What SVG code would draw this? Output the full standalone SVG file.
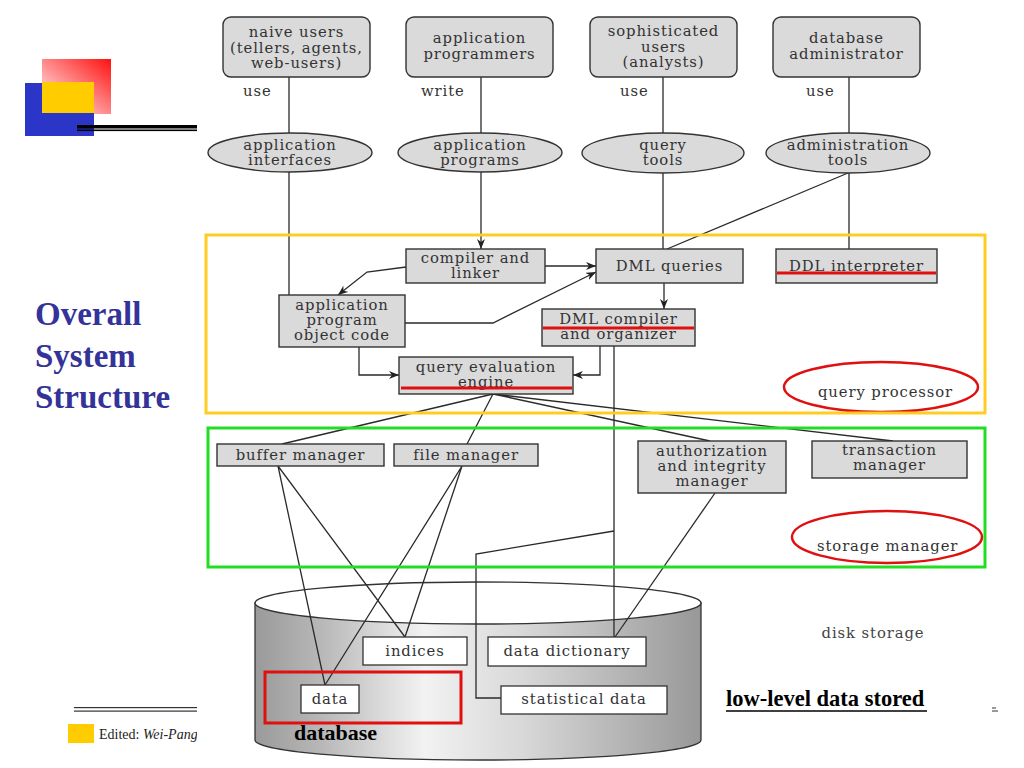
<svg xmlns="http://www.w3.org/2000/svg" width="1024" height="768" viewBox="0 0 1024 768">
<defs>
<linearGradient id="redg" x1="1" y1="0" x2="0" y2="1">
<stop offset="0" stop-color="#ff1010"/>
<stop offset="1" stop-color="#ffffff"/>
</linearGradient>
<linearGradient id="cyl" x1="0" y1="0" x2="1" y2="0">
<stop offset="0" stop-color="#9a9a9a"/>
<stop offset="0.15" stop-color="#b8b8b8"/>
<stop offset="0.38" stop-color="#f2f2f2"/>
<stop offset="0.6" stop-color="#d8d8d8"/>
<stop offset="0.85" stop-color="#b0b0b0"/>
<stop offset="1" stop-color="#989898"/>
</linearGradient>
<clipPath id="leftclip"><rect x="0" y="0" width="197" height="768"/></clipPath>
<marker id="ah" viewBox="0 0 10 8" refX="10" refY="4" markerWidth="10" markerHeight="8" markerUnits="userSpaceOnUse" orient="auto">
<path d="M0,0 L10,4 L0,8 L3,4 Z" fill="#222"/>
</marker>
<style>
.t{font-family:"DejaVu Serif","Liberation Serif",serif;font-size:14.8px;fill:#333;letter-spacing:0.9px;text-anchor:middle}
.l{font-family:"DejaVu Serif","Liberation Serif",serif;font-size:14.8px;fill:#333;letter-spacing:0.9px}
.rb{fill:#dadada;stroke:#333;stroke-width:1.4}
.wb{fill:#fff;stroke:#333;stroke-width:1.3}
.c{fill:none;stroke:#2a2a2a;stroke-width:1.3}
.a{fill:none;stroke:#2a2a2a;stroke-width:1.3;marker-end:url(#ah)}
.ul{stroke:#e01010;stroke-width:3}
.title{font-family:"Liberation Serif","Times New Roman",serif;font-weight:bold;font-size:33px;fill:#333399}
</style>
</defs>
<rect width="1024" height="768" fill="#fff"/>

<!-- slide decoration -->
<g id="decoration">
<rect x="42" y="59" width="69" height="55" fill="url(#redg)"/>
<rect x="25" y="83" width="69" height="53" fill="#2b35c8"/>
<rect x="42" y="82" width="52" height="31" fill="#ffcc00"/>
<g clip-path="url(#leftclip)">
<rect x="77" y="125" width="130" height="3.5" fill="#000"/>
<rect x="77" y="129.5" width="130" height="1.6" fill="#000"/>
<rect x="74" y="707" width="130" height="1.2" fill="#333"/>
<rect x="74" y="710.5" width="130" height="1.2" fill="#333"/>
<rect x="68" y="724" width="26" height="19" fill="#ffcc00"/>
<text x="99" y="739" font-family="Liberation Serif,serif" font-size="14" fill="#222">Edited: <tspan font-style="italic">Wei-Pang</tspan></text>
</g>
<text class="title" x="35" y="325">Overall</text>
<text class="title" x="35" y="367">System</text>
<text class="title" x="35" y="408">Structure</text>
</g>

<!-- database cylinder -->
<g id="database">
<path d="M255,603 L255,740 A223,20 0 0 0 701,740 L701,603 Z" fill="url(#cyl)" stroke="#333" stroke-width="1.3"/>
<ellipse cx="478" cy="603" rx="223" ry="21" fill="#fff" stroke="#333" stroke-width="1.3"/>
</g>

<!-- connectors -->
<g id="connectors">
<path class="c" d="M289,77 V133 M289,172 V295"/>
<path class="c" d="M481,77 V133"/>
<path class="c" d="M663,77 V133 M663,173 V249"/>
<path class="c" d="M849,77 V133 M849,173 V249"/>
<path class="c" d="M848,173 L667,249"/>
<path class="a" d="M481,172 V249"/>
<path class="a" d="M545,266 H596"/>
<path class="a" d="M406,267 L367,272 L338,295"/>
<path class="a" d="M405,323 H493 L596,272"/>
<path class="a" d="M664,283 V309"/>
<path class="a" d="M359,347 V375 H399"/>
<path class="a" d="M600,346 V375 H573"/>
<path class="c" d="M614,346 V637"/>
<path class="c" d="M614,531 L476,554 V698 H501"/>
<path class="c" d="M493,394 L282,444 M493,394 L467,444 M493,394 L710,441 M493,394 L893,441"/>
<path class="c" d="M278,466 L325,685 M278,466 L405,637"/>
<path class="c" d="M462,466 L325,685 M462,466 L405,637"/>
<path class="c" d="M715,493 L615,637"/>
</g>

<!-- users -->
<g id="naive-users">
<rect class="rb" x="223" y="17" width="147" height="60" rx="8"/>
<text class="t" x="296.5" y="37">naive users</text>
<text class="t" x="296.5" y="53">(tellers, agents,</text>
<text class="t" x="296.5" y="68">web-users)</text>
<text class="l" x="243" y="96">use</text>
</g>
<g id="application-programmers">
<rect class="rb" x="406" y="17" width="147" height="60" rx="8"/>
<text class="t" x="479.5" y="43">application</text>
<text class="t" x="479.5" y="59">programmers</text>
<text class="l" x="421" y="96">write</text>
</g>
<g id="sophisticated-users">
<rect class="rb" x="590" y="17" width="147" height="60" rx="8"/>
<text class="t" x="663.5" y="36">sophisticated</text>
<text class="t" x="663.5" y="52">users</text>
<text class="t" x="663.5" y="67">(analysts)</text>
<text class="l" x="620" y="96">use</text>
</g>
<g id="database-administrator">
<rect class="rb" x="773" y="17" width="147" height="60" rx="8"/>
<text class="t" x="846.5" y="43">database</text>
<text class="t" x="846.5" y="59">administrator</text>
<text class="l" x="806" y="96">use</text>
</g>

<!-- tools -->
<g id="application-interfaces">
<ellipse class="rb" cx="290" cy="152.5" rx="82" ry="19.5"/>
<text class="t" x="290" y="150">application</text>
<text class="t" x="290" y="165">interfaces</text>
</g>
<g id="application-programs">
<ellipse class="rb" cx="480" cy="152.5" rx="82" ry="19.5"/>
<text class="t" x="480" y="150">application</text>
<text class="t" x="480" y="165">programs</text>
</g>
<g id="query-tools">
<ellipse class="rb" cx="663" cy="153" rx="81" ry="20"/>
<text class="t" x="663" y="150">query</text>
<text class="t" x="663" y="165">tools</text>
</g>
<g id="administration-tools">
<ellipse class="rb" cx="848" cy="153" rx="82" ry="20"/>
<text class="t" x="848" y="150">administration</text>
<text class="t" x="848" y="165">tools</text>
</g>

<!-- query processor -->
<g id="compiler-linker">
<rect class="rb" x="406" y="249" width="139" height="34"/>
<text class="t" x="475.5" y="263">compiler and</text>
<text class="t" x="475.5" y="278">linker</text>
</g>
<g id="dml-queries">
<rect class="rb" x="596" y="249" width="147" height="34"/>
<text class="t" x="669.5" y="271">DML queries</text>
</g>
<g id="ddl-interpreter">
<rect class="rb" x="776" y="249" width="161" height="34"/>
<text class="t" x="856.5" y="271">DDL interpreter</text>
<line class="ul" x1="777" y1="273" x2="936" y2="273"/>
</g>
<g id="app-object-code">
<rect class="rb" x="279" y="295" width="126" height="52"/>
<text class="t" x="342" y="310">application</text>
<text class="t" x="342" y="325">program</text>
<text class="t" x="342" y="340">object code</text>
</g>
<g id="dml-compiler">
<rect class="rb" x="542" y="309" width="153" height="37"/>
<text class="t" x="618.5" y="324">DML compiler</text>
<text class="t" x="618.5" y="339">and organizer</text>
<line class="ul" x1="543" y1="328" x2="694" y2="328"/>
</g>
<g id="query-evaluation-engine">
<rect class="rb" x="399" y="357" width="174" height="37"/>
<text class="t" x="486" y="372">query evaluation</text>
<text class="t" x="486" y="387">engine</text>
<line class="ul" x1="401" y1="388" x2="572" y2="388"/>
</g>
<g id="query-processor-label">
<ellipse cx="881" cy="387" rx="97" ry="25" fill="none" stroke="#e01010" stroke-width="2.5"/>
<text class="l" x="818" y="397">query processor</text>
</g>

<!-- storage manager -->
<g id="buffer-manager">
<rect class="rb" x="217" y="444" width="167" height="22"/>
<text class="t" x="300.5" y="460">buffer manager</text>
</g>
<g id="file-manager">
<rect class="rb" x="394" y="444" width="144" height="22"/>
<text class="t" x="466" y="460">file manager</text>
</g>
<g id="authorization-manager">
<rect class="rb" x="638" y="441" width="148" height="52"/>
<text class="t" x="712" y="456">authorization</text>
<text class="t" x="712" y="471">and integrity</text>
<text class="t" x="712" y="486">manager</text>
</g>
<g id="transaction-manager">
<rect class="rb" x="812" y="441" width="155" height="37"/>
<text class="t" x="889.5" y="455">transaction</text>
<text class="t" x="889.5" y="470">manager</text>
</g>
<g id="storage-manager-label">
<ellipse cx="887" cy="537" rx="95" ry="26" fill="none" stroke="#e01010" stroke-width="2.5"/>
<text class="l" x="817" y="551">storage manager</text>
</g>

<!-- disk storage -->
<g id="indices">
<rect class="wb" x="363" y="637" width="104" height="28"/>
<text class="t" x="415" y="656">indices</text>
</g>
<g id="data-dictionary">
<rect class="wb" x="488" y="637" width="158" height="29"/>
<text class="t" x="567" y="656">data dictionary</text>
</g>
<g id="data">
<rect class="wb" x="301" y="685" width="58" height="28"/>
<text class="t" x="330" y="704">data</text>
</g>
<g id="statistical-data">
<rect class="wb" x="501" y="686" width="166" height="28"/>
<text class="t" x="584" y="704">statistical data</text>
</g>
<rect x="265" y="672" width="196" height="51" fill="none" stroke="#e01010" stroke-width="3"/>
<text x="294" y="740" font-family="Liberation Serif,serif" font-weight="bold" font-size="22" fill="#000">database</text>
<text class="t" x="873" y="638" style="fill:#444">disk storage</text>
<text x="726" y="706" font-family="Liberation Serif,serif" font-weight="bold" font-size="22.5" fill="#000">low-level data stored</text>
<line x1="726" y1="711" x2="927" y2="711" stroke="#000" stroke-width="1.5"/>
<path d="M992,708 H996 M992,711 H998" stroke="#333" stroke-width="1"/>

<!-- frames -->
<rect x="206" y="235" width="779" height="178" fill="none" stroke="#ffcc22" stroke-width="3"/>
<rect x="208" y="428" width="777" height="139" fill="none" stroke="#22dd22" stroke-width="3"/>
</svg>
